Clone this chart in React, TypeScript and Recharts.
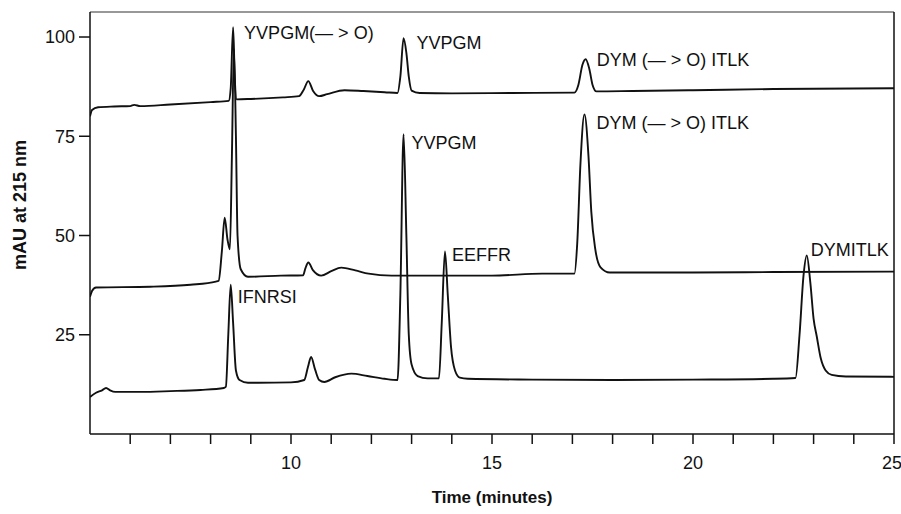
import { LineChart, Line, XAxis, YAxis, LabelList, Label, ReferenceLine } from 'recharts';

// three chromatograms, [time (min), mAU]
const topTrace: [number, number][] = [
  [5.0, 80.0], [5.05, 81.6], [5.2, 82.3], [5.6, 82.5], [6.0, 82.6], [6.1, 82.9], [6.25, 82.6],
  [7.0, 83.0], [8.0, 83.6], [8.45, 83.9], [8.5, 87], [8.56, 102.5], [8.6, 90], [8.65, 84.3],
  [9.0, 84.4], [9.8, 84.8], [10.2, 85.1], [10.32, 86.8], [10.43, 88.9], [10.55, 86.4],
  [10.7, 85.1], [10.9, 85.6], [11.33, 86.6], [11.8, 86.4], [12.33, 86.1], [12.65, 85.9],
  [12.72, 90], [12.8, 99.7], [12.87, 96], [12.93, 90], [13.0, 86.5], [13.2, 85.9],
  [14.0, 85.8], [15.5, 85.9], [17.05, 86.0], [17.15, 88], [17.25, 93], [17.33, 94.4],
  [17.42, 92], [17.5, 88], [17.6, 86.3], [18.5, 86.4], [20.0, 86.6], [22.0, 86.9], [25.0, 87.1],
];

const midTrace: [number, number][] = [
  [5.0, 34.6], [5.05, 36.0], [5.15, 36.9], [6.5, 37.1], [7.5, 37.6], [8.13, 38.4], [8.2, 38.6],
  [8.28, 46], [8.35, 54.5], [8.42, 49], [8.48, 46.5], [8.53, 70], [8.58, 97], [8.63, 75],
  [8.67, 50], [8.75, 41.5], [8.93, 39.6], [9.75, 39.9], [10.3, 40.0], [10.36, 41.8],
  [10.43, 43.2], [10.55, 41.2], [10.75, 39.9], [11.0, 41.0], [11.25, 41.9], [11.6, 41.2],
  [11.93, 40.4], [12.5, 39.9], [15.0, 39.9], [16.25, 40.4], [17.05, 40.4], [17.12, 48],
  [17.2, 68], [17.3, 80.5], [17.4, 70], [17.47, 56], [17.57, 46.5], [17.7, 42], [17.93, 40.7],
  [20.0, 40.7], [22.0, 40.8], [25.0, 40.9],
];

const lowTrace: [number, number][] = [
  [5.0, 9.3], [5.15, 10.4], [5.3, 11.0], [5.4, 11.6], [5.5, 11.0], [5.63, 10.6], [6.25, 10.6],
  [7.0, 10.8], [7.75, 11.1], [8.33, 11.6], [8.38, 11.9], [8.44, 25], [8.5, 37.6], [8.56, 28],
  [8.63, 16], [8.72, 13.6], [8.93, 12.9], [9.18, 12.9], [10.0, 13.0], [10.33, 13.6],
  [10.42, 16.8], [10.5, 19.4], [10.6, 16.2], [10.7, 13.6], [10.83, 13.1], [11.1, 14.3],
  [11.5, 15.2], [11.9, 14.6], [12.33, 13.9], [12.65, 13.6], [12.72, 35], [12.8, 75.5],
  [12.87, 50], [12.93, 25], [13.0, 17.5], [13.15, 14.6], [13.4, 14.0], [13.68, 14.0],
  [13.75, 28], [13.83, 46], [13.9, 35], [13.98, 22], [14.08, 16], [14.2, 14.2], [14.4, 13.9],
  [16.0, 13.7], [18.0, 13.6], [20.0, 13.7], [22.0, 13.9], [22.55, 14.1], [22.65, 25],
  [22.75, 40], [22.83, 45], [22.92, 38], [23.0, 29], [23.08, 24.5], [23.18, 19], [23.3, 16],
  [23.45, 14.9], [23.8, 14.5], [25.0, 14.4],
];

// peak labels, keyed by retention time of the peak
const topTags = [
  { t: 8.56, text: 'YVPGM(— > O)' },
  { t: 12.8, text: 'YVPGM' },
  { t: 17.33, text: 'DYM (— > O) ITLK' },
];
const midTags = [{ t: 17.3, text: 'DYM (— > O) ITLK' }];
const lowTags = [
  { t: 8.5, text: 'IFNRSI' },
  { t: 12.8, text: 'YVPGM' },
  { t: 13.83, text: 'EEFFR' },
  { t: 22.83, text: 'DYMITLK' },
];

const xTicks = [6, 7, 8, 9, 10, 11, 12, 13, 14, 15, 16, 17, 18, 19, 20, 21, 22, 23, 24, 25];
const yTicks = [25, 50, 75, 100];
const X_MIN = 5;
const X_MAX = 25;
const Y_MAX = 106.3;

// text offsets from the peak tip
const topOffsets: Record<string, [number, number]> = {
  'YVPGM(— > O)': [11, 12],
  YVPGM: [13, 11],
  'DYM (— > O) ITLK': [11, 7],
};
const midOffsets: Record<string, [number, number]> = { 'DYM (— > O) ITLK': [12, 15] };
const lowOffsets: Record<string, [number, number]> = {
  IFNRSI: [7, 18],
  YVPGM: [8, 15],
  EEFFR: [7, 10],
  DYMITLK: [4, 1],
};

const FONT = '"Liberation Sans", Arial, Helvetica, sans-serif';
const INK = '#111';

const toRows = (trace: [number, number][], tags: { t: number; text: string }[]) =>
  trace.map(([t, v]) => ({ t, v, tag: tags.find((g) => g.t === t)?.text ?? '' }));

const tagRenderer = (offsets: Record<string, [number, number]>) => (props: any) => {
  const { value } = props;
  if (!value) return null;
  const x = props.x ?? props.viewBox?.x;
  const y = props.y ?? props.viewBox?.y;
  const [dx, dy] = offsets[value] ?? [8, 10];
  return (
    <text x={x + dx} y={y + dy} fontSize={18} fontFamily={FONT} fill={INK}>
      {value}
    </text>
  );
};

const series = [
  { name: 'top', rows: toRows(topTrace, topTags), offsets: topOffsets },
  { name: 'mid', rows: toRows(midTrace, midTags), offsets: midOffsets },
  { name: 'low', rows: toRows(lowTrace, lowTags), offsets: lowOffsets },
];

export default function App() {
  return (
    <div style={{ position: 'absolute', left: 0, top: 0, background: '#fff' }}>
      <LineChart width={901} height={514} margin={{ top: 12, right: 7, bottom: 0, left: 0 }}>
        <XAxis
          dataKey="t"
          type="number"
          domain={[X_MIN, X_MAX]}
          ticks={xTicks}
          tickFormatter={(v) => (v % 5 === 0 ? String(v) : '')}
          tickSize={10}
          tickMargin={12}
          height={80}
          stroke={INK}
          strokeWidth={1.5}
          tick={{ fill: INK, fontSize: 18, fontFamily: FONT }}
          allowDataOverflow
        >
          <Label
            content={({ viewBox }: any) => (
              <text
                x={viewBox.x + viewBox.width / 2}
                y={viewBox.y + 69}
                textAnchor="middle"
                fontSize={17}
                fontWeight="bold"
                fontFamily={FONT}
                fill={INK}
              >
                Time (minutes)
              </text>
            )}
          />
        </XAxis>
        <YAxis
          type="number"
          domain={[0, Y_MAX]}
          ticks={yTicks}
          tickSize={11}
          tickMargin={4}
          width={90}
          stroke={INK}
          strokeWidth={1.5}
          tick={{ fill: INK, fontSize: 18, fontFamily: FONT }}
          allowDataOverflow
        >
          <Label
            content={({ viewBox }: any) => {
              const cx = 20;
              const cy = viewBox.y + 193;
              return (
                <text
                  x={cx}
                  y={cy}
                  transform={`rotate(-90 ${cx} ${cy})`}
                  textAnchor="middle"
                  dominantBaseline="central"
                  fontSize={18}
                  fontWeight="bold"
                  fontFamily={FONT}
                  fill={INK}
                >
                  mAU at 215 nm
                </text>
              );
            }}
          />
        </YAxis>
        {/* frame: top and right edges */}
        <ReferenceLine y={Y_MAX} stroke="#333" strokeWidth={1.2} />
        <ReferenceLine x={X_MAX} stroke={INK} strokeWidth={1.5} />
        {series.map((s) => (
          <Line
            key={s.name}
            data={s.rows}
            dataKey="v"
            type="monotone"
            stroke={INK}
            strokeWidth={1.9}
            dot={false}
            activeDot={false}
            isAnimationActive={false}
          >
            <LabelList dataKey="tag" content={tagRenderer(s.offsets)} />
          </Line>
        ))}
      </LineChart>
    </div>
  );
}
